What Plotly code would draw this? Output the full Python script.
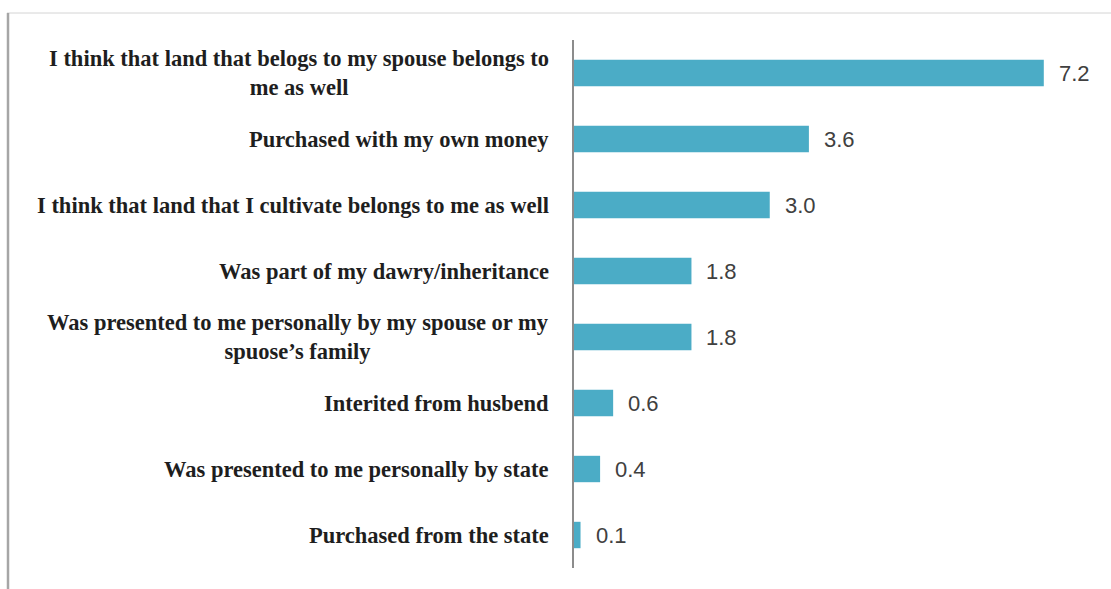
import plotly.graph_objects as go

categories = [
    "I think that land that belogs to my spouse belongs to<br>me as well",
    "Purchased with my own money",
    "I think that land that I cultivate belongs to me as well",
    "Was part of my dawry/inheritance",
    "Was presented to me personally by my spouse or my<br>spuose\u2019s family",
    "Interited from husbend",
    "Was presented to me personally by state",
    "Purchased from the state",
]
values = [7.2, 3.6, 3.0, 1.8, 1.8, 0.6, 0.4, 0.1]
value_labels = ["7.2", "3.6", "3.0", "1.8", "1.8", "0.6", "0.4", "0.1"]

W, H = 1111, 589
L, R, T, B = 574, 15, 40, 21
pw, ph = W - L - R, H - T - B

def px_x(x):
    return (x - L) / pw

def px_y(y):
    return (H - B - y) / ph

fig = go.Figure()
fig.add_trace(go.Bar(
    x=values, y=list(range(len(categories))), orientation="h",
    marker=dict(color="#4BACC6", line=dict(width=0)),
    hoverinfo="skip",
))

annotations = []
for i, (c, v, lab) in enumerate(zip(categories, values, value_labels)):
    annotations.append(dict(
        x=0, y=i, xref="x", yref="y", text="<b>" + c.replace("<br>", "</b><br><b>") + "</b>",
        showarrow=False,
        xanchor="right", yanchor="middle", xshift=-23, align="center",
        font=dict(family="Liberation Serif", size=22.5, color="#1e1e1e"),
    ))
    annotations.append(dict(
        x=v, y=i, xref="x", yref="y", text=lab, showarrow=False,
        xanchor="left", yanchor="middle", xshift=13,
        font=dict(family="Liberation Sans", size=22, color="#404040"),
    ))

shapes = [
    dict(type="line", xref="paper", yref="paper",
         x0=px_x(7), x1=px_x(1111), y0=px_y(13), y1=px_y(13),
         line=dict(color="#d4d4d4", width=1)),
    dict(type="line", xref="paper", yref="paper",
         x0=px_x(8), x1=px_x(8), y0=px_y(13), y1=px_y(589),
         line=dict(color="#a6a6a6", width=2.5)),
]

fig.update_layout(
    width=W, height=H,
    margin=dict(l=L, r=R, t=T, b=B, pad=0),
    paper_bgcolor="white", plot_bgcolor="white",
    bargap=0.6, showlegend=False,
    annotations=annotations, shapes=shapes,
    xaxis=dict(range=[0, 8], showgrid=False, zeroline=False,
               showticklabels=False, showline=False, ticks=""),
    yaxis=dict(range=[len(categories) - 0.5, -0.5], showgrid=False,
               zeroline=False, showticklabels=False, ticks="",
               showline=True, linecolor="#8c8c8c", linewidth=1.5),
)

fig.write_html("out.html")
